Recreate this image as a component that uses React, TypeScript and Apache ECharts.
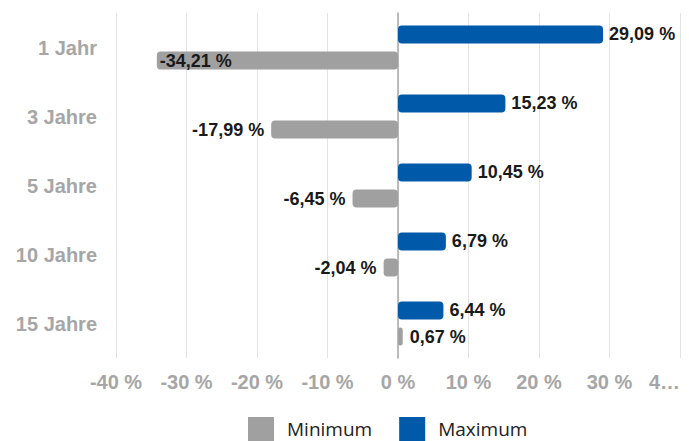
import React, { useEffect, useRef } from "react";
import * as echarts from "echarts";

// Categories bottom-to-top (value axis not inverted)
const categories = ["15 Jahre", "10 Jahre", "5 Jahre", "3 Jahre", "1 Jahr"];
const minimumValues = [0.67, -2.04, -6.45, -17.99, -34.21];
const maximumValues = [6.44, 6.79, 10.45, 15.23, 29.09];
const seriesNames = ["Minimum", "Maximum"];
const xTicks = [-40, -30, -20, -10, 0, 10, 20, 30, 40];

const fmt = (v: number) => v.toFixed(2).replace(".", ",") + " %";

export default function App() {
  const ref = useRef<HTMLDivElement>(null);
  useEffect(() => {
    if (!ref.current) return;
    const chart = echarts.init(ref.current, undefined, { renderer: "svg" });
    const labelFont = {
      fontFamily: "'Liberation Sans', Arial, sans-serif",
      fontWeight: "bold" as const,
      fontSize: 18,
      color: "#1a1a1a",
    };
    chart.setOption({
      animation: false,
      grid: {
        left: 116,
        right: 9,
        top: 13,
        bottom: 83,
        containLabel: false,
        outerBoundsMode: "none",
      },
      legend: {
        top: 417,
        left: 248,
        padding: 0,
        itemWidth: 26,
        itemHeight: 24,
        itemGap: 27,
        icon: "rect",
        textStyle: {
          fontFamily: "'Open Sans', sans-serif",
          fontSize: 19,
          color: "#222",
          padding: [0, 0, 0, 8],
        },
        data: seriesNames,
      },
      xAxis: {
        type: "value",
        min: xTicks[0],
        max: xTicks[xTicks.length - 1],
        interval: 10,
        axisLine: { show: false },
        axisTick: { show: false },
        splitLine: { show: true, lineStyle: { color: "#e3e3e3", width: 1 } },
        axisLabel: {
          margin: 14,
          color: "#a6a6a6",
          fontFamily: "'Liberation Sans', Arial, sans-serif",
          fontWeight: "bold",
          fontSize: 20,
          alignMaxLabel: "right",
          formatter: (v: number) => (v === 40 ? "4…" : v + " %"),
        },
      },
      yAxis: {
        type: "category",
        data: categories,
        axisLine: { show: true, onZero: true, lineStyle: { color: "#a8a8a8", width: 1.5 } },
        axisTick: { show: false },
        axisLabel: {
          margin: 19,
          color: "#a6a6a6",
          fontFamily: "'Liberation Sans', Arial, sans-serif",
          fontWeight: "bold",
          fontSize: 20,
        },
      },
      series: [
        {
          name: seriesNames[1],
          type: "bar",
          barWidth: 18,
          barGap: "45%",
          itemStyle: { color: "#0059a9", borderRadius: 4 },
          label: {
            show: true,
            position: "right",
            distance: 6,
            formatter: (p: any) => fmt(p.value),
            ...labelFont,
          },
          data: maximumValues,
        },
        {
          name: seriesNames[0],
          type: "bar",
          barWidth: 18,
          barGap: "45%",
          itemStyle: { color: "#a0a0a0", borderRadius: 4 },
          data: minimumValues.map((v) => ({
            value: v,
            label: {
              show: true,
              position: v < -30 ? "insideLeft" : v < 0 ? "left" : "right",
              distance: v < -30 ? 3 : 7,
              formatter: () => fmt(v),
              ...labelFont,
            },
          })),
        },
      ],
    });
    return () => chart.dispose();
  }, []);
  return (
    <div
      ref={ref}
      style={{ position: "fixed", left: 0, top: 0, width: 689, height: 441, background: "#fff" }}
    />
  );
}
